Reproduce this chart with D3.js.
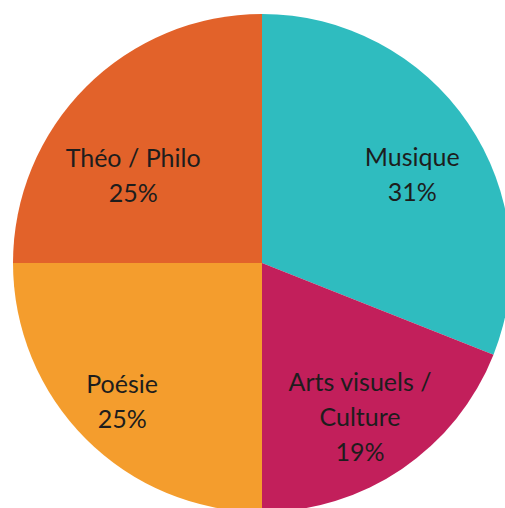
<!DOCTYPE html>
<html>
<head>
<meta charset="utf-8">
<script src="https://cdn.jsdelivr.net/npm/d3@7"></script>
<style>
  body { margin: 0; background: #fff; }
  svg { display: block; }
</style>
</head>
<body>
<svg id="chart" width="505" height="508"></svg>
<script>
// data
const categories = ["Musique", "Arts visuels / Culture", "Poésie", "Théo / Philo"]
const values = [31, 19, 25, 25]
const labelLines = [["Musique", "31%"], ["Arts visuels /", "Culture", "19%"], ["Poésie", "25%"], ["Théo / Philo", "25%"]]

const colors = ["#2fbcbf", "#c21f5b", "#f49d2d", "#e2622a"]

const width = 505, height = 508
const cx = 262, cy = 263, radius = 249

const svg = d3.select("#chart")
const g = svg.append("g").attr("transform", `translate(${cx},${cy})`)

const pie = d3.pie().sort(null).value(d => d)
const arcs = pie(values)

const arc = d3.arc().innerRadius(0).outerRadius(radius)

g.selectAll("path")
  .data(arcs)
  .join("path")
  .attr("d", arc)
  .attr("fill", (d, i) => colors[i])

// labels sit roughly where Excel put them
const labelArc = d3.arc().innerRadius(178).outerRadius(178)
const nudge = [[3, 12], [-2, 7], [-14, 13], [-3, 38]]
const lineH = 35

labelLines.forEach((lines, i) => {
  const [x, y] = labelArc.centroid(arcs[i])
  const t = g.append("text")
    .attr("text-anchor", "middle")
    .attr("font-family", "Lato, 'Open Sans', sans-serif")
    .attr("font-size", 25)
    .attr("fill", "#1d1d1d")
  lines.forEach((s, j) => {
    t.append("tspan")
      .attr("x", x + nudge[i][0])
      .attr("y", y + nudge[i][1] + (j - (lines.length - 1) / 2) * lineH + 9)
      .text(s)
  })
})
</script>
</body>
</html>
